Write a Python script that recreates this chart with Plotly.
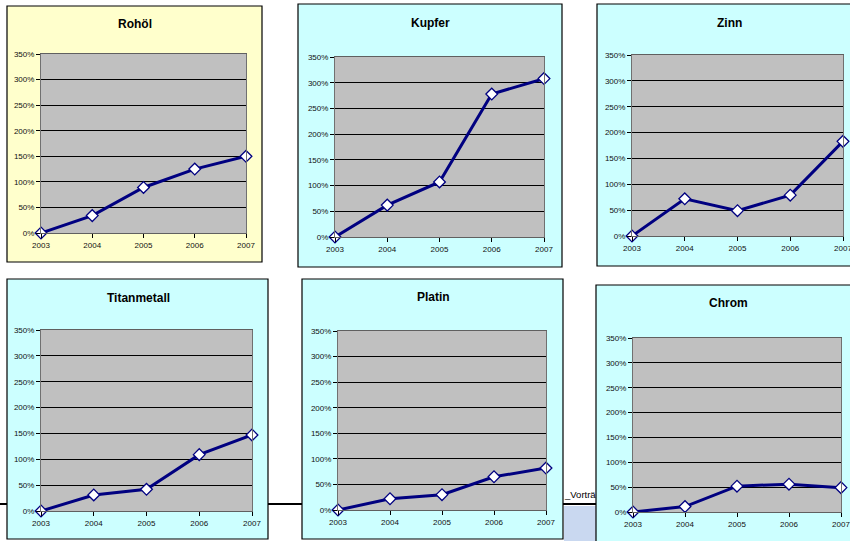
import plotly.graph_objects as go

years = [2003, 2004, 2005, 2006, 2007]
year_labels = ["2003", "2004", "2005", "2006", "2007"]
y_ticks = [0, 50, 100, 150, 200, 250, 300, 350]
y_tick_labels = ["0%", "50%", "100%", "150%", "200%", "250%", "300%", "350%"]

titles = ["Rohöl", "Kupfer", "Zinn", "Titanmetall", "Platin", "Chrom"]
rohoel = [0, 34, 89, 125, 150]
kupfer = [0, 62, 107, 278, 308]
zinn = [0, 72, 49, 79, 183]
titan = [0, 31, 42, 109, 147]
platin = [0, 22, 30, 65, 82]
chrom = [0, 11, 52, 56, 49]
series = [rohoel, kupfer, zinn, titan, platin, chrom]

W, H = 850, 541
# layout in pixels: outer panel box, plot area, title position, panel colour
panels = [
    dict(outer=(7, 6, 262, 262), plot=(41, 54, 246, 233), title=(135, 24), bg="#ffffcc"),
    dict(outer=(298, 4, 562, 267), plot=(335, 57, 544, 237), title=(430, 23), bg="#ccffff"),
    dict(outer=(597, 4, 853, 266), plot=(632, 55, 843, 236), title=(729, 23), bg="#ccffff"),
    dict(outer=(7, 279, 268, 539), plot=(41, 330, 252, 511), title=(138, 298), bg="#ccffff"),
    dict(outer=(302, 279, 563, 539), plot=(338, 331, 546, 510), title=(433, 297), bg="#ccffff"),
    dict(outer=(596, 285, 853, 546), plot=(633, 338, 841, 512), title=(728, 303), bg="#ccffff"),
]

def px(x):
    return x / W

def py(y):
    return 1 - y / H

fig = go.Figure()
shapes = []
annotations = []

# background slide elements
shapes.append(dict(type="line", xref="paper", yref="paper", x0=px(0), x1=px(850),
                   y0=py(504), y1=py(504), line=dict(color="black", width=2), layer="below"))
shapes.append(dict(type="rect", xref="paper", yref="paper", x0=px(564), x1=px(596),
                   y0=py(506), y1=py(541), fillcolor="#c9d8f0", line=dict(width=0), layer="below"))
annotations.append(dict(text="_Vorträ", xref="paper", yref="paper", x=px(562), y=py(494),
                        xanchor="left", yanchor="middle", showarrow=False,
                        font=dict(family="Arial, Liberation Sans", size=9.5, color="black")))

tick_font = dict(family="Arial, Liberation Sans", size=8, color="#111111")

for i, (p, t, s) in enumerate(zip(panels, titles, series)):
    n = "" if i == 0 else str(i + 1)
    ox0, oy0, ox1, oy1 = p["outer"]
    shapes.append(dict(type="rect", xref="paper", yref="paper", x0=px(ox0), x1=px(ox1),
                       y0=py(oy1), y1=py(oy0), fillcolor=p["bg"],
                       line=dict(color="black", width=1.2), layer="below"))
    x0, y0, x1, y1 = p["plot"]
    shapes.append(dict(type="rect", xref="paper", yref="paper", x0=px(x0), x1=px(x1),
                       y0=py(y1), y1=py(y0), fillcolor="#c0c0c0",
                       line=dict(width=0), layer="below"))
    fig.add_trace(go.Scatter(
        x=years, y=s, mode="lines+markers", xaxis="x" + n, yaxis="y" + n,
        line=dict(color="#000080", width=3),
        marker=dict(symbol="diamond", size=9, color="white", line=dict(color="#000080", width=1.3)),
        cliponaxis=False, showlegend=False, hoverinfo="skip"))
    fig.update_layout(**{
        "xaxis" + n: dict(domain=[px(x0), px(x1)], anchor="y" + n, range=[2003, 2007],
                          tickvals=years, ticktext=year_labels, ticks="outside", ticklen=4,
                          tickcolor="black", showgrid=False, zeroline=False, automargin=False,
                          showline=True, linecolor="#606060", linewidth=1, mirror=True,
                          ticklabeloverflow="allow", tickfont=tick_font, fixedrange=True),
        "yaxis" + n: dict(domain=[py(y1), py(y0)], anchor="x" + n, range=[0, 350],
                          tickvals=y_ticks, ticktext=y_tick_labels, ticks="outside", ticklen=4,
                          tickcolor="black", showgrid=True, gridcolor="black", gridwidth=1,
                          zeroline=False, showline=True, linecolor="#707070", linewidth=1,
                          mirror=True, automargin=False, ticklabeloverflow="allow",
                          tickfont=tick_font, fixedrange=True),
    })
    tx, ty = p["title"]
    annotations.append(dict(text="<b>" + t + "</b>", xref="paper", yref="paper", x=px(tx), y=py(ty),
                            xanchor="center", yanchor="middle", showarrow=False,
                            font=dict(family="Arial, Liberation Sans", size=12, color="black")))

fig.update_layout(width=W, height=H, margin=dict(l=0, r=0, t=0, b=0, pad=0, autoexpand=False),
                  paper_bgcolor="white", plot_bgcolor="#c0c0c0",
                  shapes=shapes, annotations=annotations)

fig.write_html("out.html", config={"displayModeBar": False},
               post_script="document.body.style.margin='0';document.body.style.overflow='hidden';")
